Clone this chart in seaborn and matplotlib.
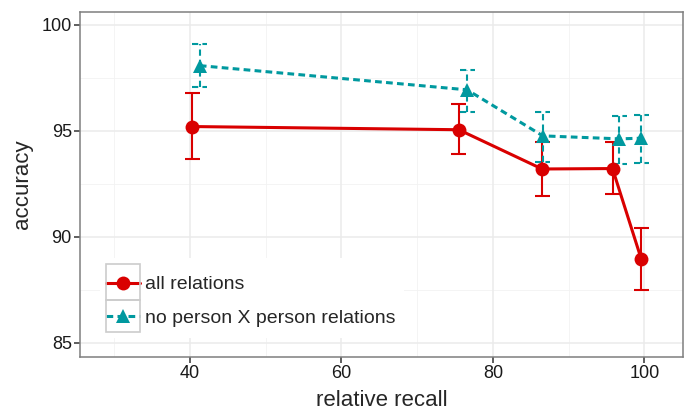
import numpy as np
import pandas as pd
import matplotlib
matplotlib.use("Agg")
import matplotlib.pyplot as plt
from matplotlib.patches import Rectangle
import seaborn as sns

# values
series = ["all relations", "no person X person relations"]
recall_all = [40.3, 75.5, 86.5, 95.8, 99.6]
acc_all = [95.2, 95.05, 93.2, 93.22, 88.95]
lo_all = [93.65, 93.9, 91.95, 92.0, 87.5]
hi_all = [96.8, 96.25, 94.45, 94.45, 90.4]

recall_np = [41.3, 76.6, 86.6, 96.7, 99.6]
acc_np = [98.07, 96.93, 94.76, 94.62, 94.65]
lo_np = [97.05, 95.9, 93.55, 93.45, 93.5]
hi_np = [99.1, 97.85, 95.9, 95.7, 95.75]

df = pd.DataFrame({
    "recall": recall_all + recall_np,
    "accuracy": acc_all + acc_np,
    "lo": lo_all + lo_np,
    "hi": hi_all + hi_np,
    "series": [series[0]] * len(recall_all) + [series[1]] * len(recall_np),
})

red = "#D90000"
teal = "#00999F"
colors = {series[0]: red, series[1]: teal}

sns.set_style("white")
plt.rcParams["font.family"] = ["Liberation Sans", "DejaVu Sans"]

fig = plt.figure(figsize=(6.85, 4.12), dpi=100)
ax = fig.add_axes([0.117, 0.134, 0.880, 0.837])

# grid like theme_bw
for v in [30, 50, 70, 90]:
    ax.axvline(v, color="#F2F2F2", lw=0.6, zorder=0)
for v in [87.5, 92.5, 97.5]:
    ax.axhline(v, color="#F2F2F2", lw=0.6, zorder=0)
for v in [40, 60, 80, 100]:
    ax.axvline(v, color="#EBEBEB", lw=1.1, zorder=0)
for v in [85, 90, 95, 100]:
    ax.axhline(v, color="#EBEBEB", lw=1.1, zorder=0)

# error bars
for s, ls in zip(series, ["-", (0, (3, 2))]):
    d = df[df["series"] == s]
    c = colors[s]
    ax.vlines(d["recall"], d["lo"], d["hi"], colors=c, linestyles=[ls], lw=1.5, zorder=2)
    ax.hlines(d["lo"], d["recall"] - 1.0, d["recall"] + 1.0, colors=c, linestyles=[ls], lw=1.5, zorder=2)
    ax.hlines(d["hi"], d["recall"] - 1.0, d["recall"] + 1.0, colors=c, linestyles=[ls], lw=1.5, zorder=2)

sns.lineplot(data=df, x="recall", y="accuracy", hue="series", style="series",
             palette=colors, markers={series[0]: "o", series[1]: "^"},
             dashes={series[0]: "", series[1]: (2.2, 1.4)},
             markersize=10, markeredgewidth=0, lw=2.2, ax=ax, zorder=3)

ax.set_xlim(25.5, 105.1)
ax.set_ylim(84.35, 100.6)
ax.set_xticks([40, 60, 80, 100])
ax.set_yticks([85, 90, 95, 100])
ax.tick_params(bottom=True, left=True, direction="out", length=4, width=1.1,
               color="#333333", labelsize=13, labelcolor="#1A1A1A", pad=2)
for sp in ax.spines.values():
    sp.set_color("#7F7F7F")
    sp.set_linewidth(1.1)
ax.set_xlabel("relative recall", fontsize=16, labelpad=6)
ax.set_ylabel("accuracy", fontsize=16, labelpad=6)

# legend background and key boxes
ax.add_patch(Rectangle((0.033, 0.055), 0.504, 0.232, transform=ax.transAxes,
                       facecolor="white", edgecolor="none", zorder=4))
for y0, y1 in [(0.165, 0.2696), (0.0725, 0.165)]:
    ax.add_patch(Rectangle((0.043, y0), 0.056, y1 - y0, transform=ax.transAxes,
                           fill=False, edgecolor="#CCCCCC", lw=1.2, zorder=6))

handles, labels = ax.get_legend_handles_labels()
leg = ax.legend(handles, labels, loc="upper left", bbox_to_anchor=(0.033, 0.252),
                borderaxespad=0, frameon=False, fontsize=14, handlelength=1.75,
                handletextpad=0.25, labelspacing=0.8, borderpad=0.3)
leg.set_zorder(5)

fig.savefig("out.png", dpi=100)
